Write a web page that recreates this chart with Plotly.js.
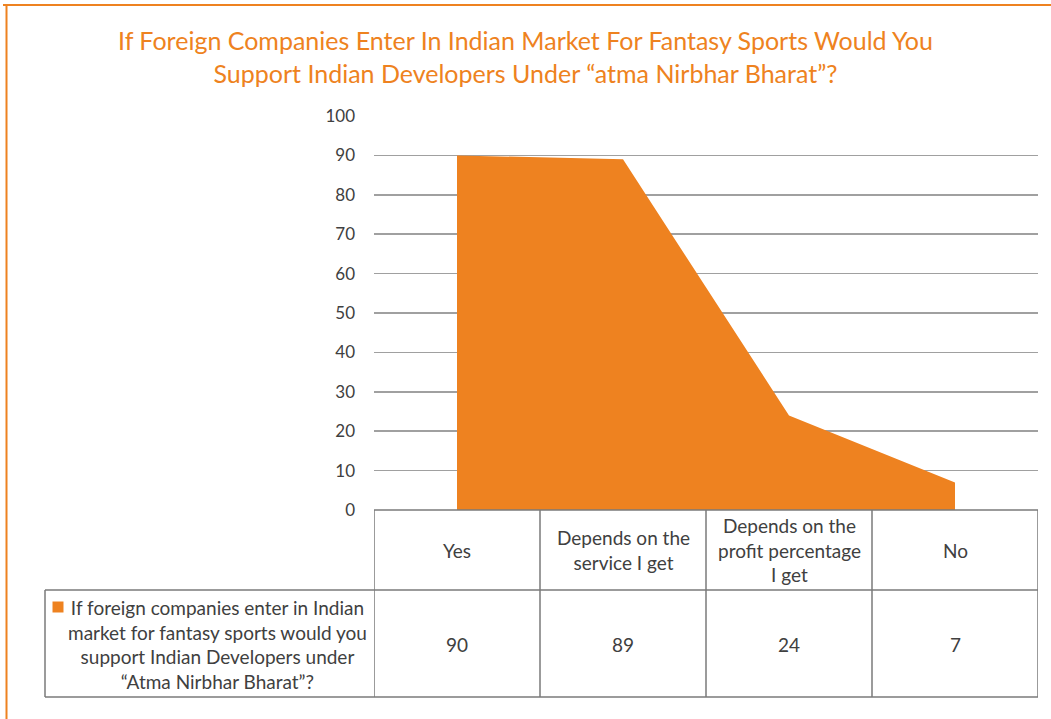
<!DOCTYPE html>
<html>
<head>
<meta charset="utf-8">
<script src="https://cdn.plot.ly/plotly-3.0.1.min.js"></script>
<style>
html,body{margin:0;padding:0;background:#fff;}
#chart{width:1051px;height:719px;}
</style>
</head>
<body>
<div id="chart"></div>
<script>
// ---- data ----
const categories = ['Yes', 'Depends on the service I get', 'Depends on the profit percentage I get', 'No'];
const headerLabels = ['Yes', 'Depends on the<br>service I get', 'Depends on the<br>profit percentage<br>I get', 'No'];
const values = [90, 89, 24, 7];
const seriesName = 'If foreign companies enter in Indian<br>market for fantasy sports would you<br>support Indian Developers under<br>\u201CAtma Nirbhar Bharat\u201D?';
const titleText = 'If Foreign Companies Enter In Indian Market For Fantasy Sports Would You<br>Support Indian Developers Under \u201Catma Nirbhar Bharat\u201D?';
const yTicks = [0, 10, 20, 30, 40, 50, 60, 70, 80, 90, 100];

// ---- layout geometry (pixels) ----
const W = 1051, H = 719;
const L = 374, R = 1038, T = 116, B = 510;
const px2x = p => (p - L) / (R - L);
const px2y = p => (B - p) / (B - T);

const orange = '#EE8220';
const textCol = '#404040';
const lineCol = '#7a7a7a';
const fontFam = 'Lato, "Open Sans", sans-serif';

const shapes = [];
function line(x0, y0, x1, y1, xref, color, w) {
  shapes.push({type: 'line', xref: xref, yref: 'paper', x0: x0, x1: x1, y0: y0, y1: y1,
    line: {color: color, width: w}, layer: 'above'});
}
// data table grid
const yTop = px2y(510), yMid = px2y(590), yBot = px2y(697);
line(0, yTop, 1, yTop, 'paper', lineCol, 1.5);
line(px2x(45), yMid, 1, yMid, 'paper', lineCol, 1.5);
line(px2x(45), yBot, 1, yBot, 'paper', lineCol, 1.5);
line(px2x(45), yMid, px2x(45), yBot, 'paper', lineCol, 1.5);
for (let i = 0; i <= categories.length; i++) {
  line(i - 0.5, yTop, i - 0.5, yBot, 'x', lineCol, 1.5);
}
// legend key square in table
shapes.push({type: 'rect', xref: 'paper', yref: 'paper',
  x0: px2x(52.5), x1: px2x(63.5), y0: px2y(612.5), y1: px2y(601.5),
  fillcolor: orange, line: {width: 0}});
// outer orange frame (top and left)
shapes.push({type: 'line', xref: 'paper', yref: 'paper', x0: px2x(3), x1: px2x(1051), y0: px2y(5), y1: px2y(5),
  line: {color: orange, width: 2}});
shapes.push({type: 'line', xref: 'paper', yref: 'paper', x0: px2x(6.5), x1: px2x(6.5), y0: px2y(4), y1: px2y(719),
  line: {color: orange, width: 2}});

const annotations = [];
const tfont = {family: fontFam, size: 19, color: textCol};
categories.forEach((c, i) => {
  annotations.push({xref: 'x', yref: 'paper', x: c, y: px2y(550), text: headerLabels[i],
    showarrow: false, font: tfont, align: 'center', xanchor: 'center', yanchor: 'middle'});
  annotations.push({xref: 'x', yref: 'paper', x: c, y: px2y(644), text: String(values[i]),
    showarrow: false, font: tfont, align: 'center', xanchor: 'center', yanchor: 'middle'});
});
annotations.push({xref: 'paper', yref: 'paper', x: px2x(217), y: px2y(644), text: seriesName,
  showarrow: false, font: tfont, align: 'center', xanchor: 'center', yanchor: 'middle'});

const trace = {
  type: 'scatter', mode: 'lines', x: categories, y: values,
  fill: 'tozeroy', fillcolor: orange, line: {width: 0, color: orange},
  hoverinfo: 'x+y', showlegend: false
};

const layout = {
  width: W, height: H,
  margin: {l: L, r: W - R, t: T, b: H - B, pad: 0},
  paper_bgcolor: '#fff', plot_bgcolor: '#fff',
  title: {text: titleText, x: 0.5, xref: 'container', xanchor: 'center',
    y: 1 - 50 / H, yref: 'container', yanchor: 'middle',
    font: {family: fontFam, size: 25, color: orange}},
  xaxis: {type: 'category', categoryarray: categories, range: [-0.5, 3.5],
    showticklabels: false, showgrid: false, zeroline: false, showline: false, ticks: ''},
  yaxis: {range: [0, 100], tickvals: yTicks, ticktext: yTicks.map(String),
    showgrid: true, gridcolor: '#a0a0a0', gridwidth: 1.5, zeroline: false, showline: false,
    ticks: '', ticklabelstandoff: 18,
    tickfont: {family: fontFam, size: 17, color: textCol}},
  shapes: shapes, annotations: annotations, showlegend: false
};

Plotly.newPlot('chart', [trace], layout, {displayModeBar: false, staticPlot: true});
</script>
</body>
</html>
